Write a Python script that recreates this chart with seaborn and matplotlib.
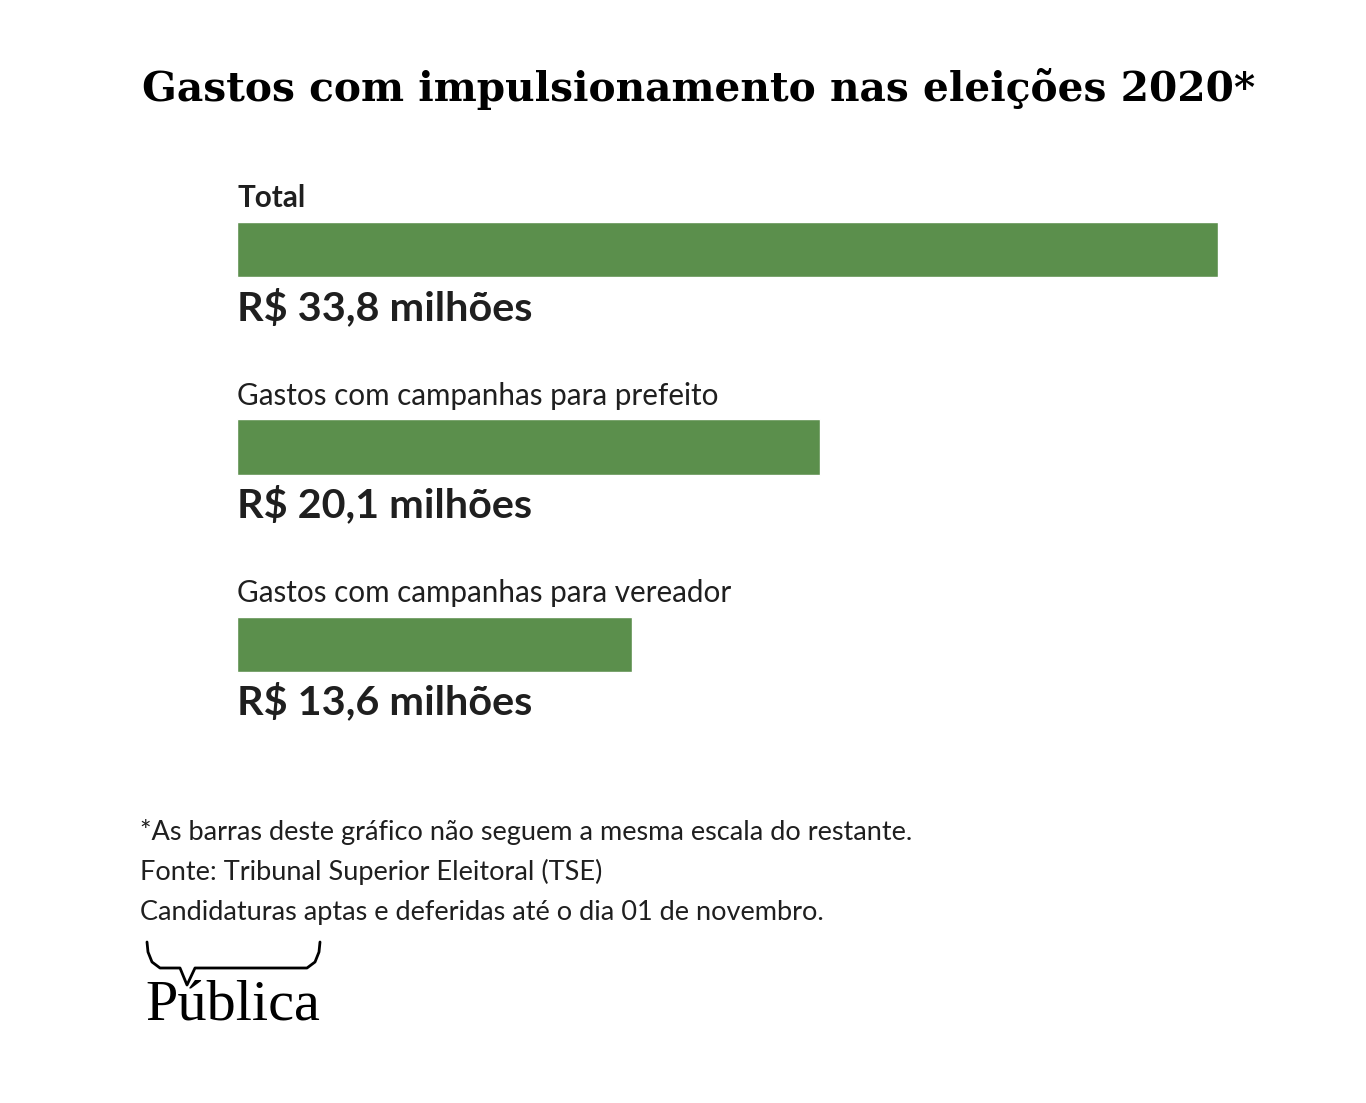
import matplotlib
matplotlib.use("Agg")
import matplotlib.pyplot as plt
import seaborn as sns
from matplotlib.lines import Line2D

categories = ["Total", "Gastos com campanhas para prefeito", "Gastos com campanhas para vereador"]
values = [33.8, 20.1, 13.6]
notes = [
    "*As barras deste gráfico não seguem a mesma escala do restante.",
    "Fonte: Tribunal Superior Eleitoral (TSE)",
    "Candidaturas aptas e deferidas até o dia 01 de novembro.",
]

GREEN = "#5b8f4c"
INK = "#1f1f1f"
W, H = 1366, 1103

sns.set_theme(style="white")
plt.rcParams["font.family"] = ["Lato", "DejaVu Sans"]

fig = plt.figure(figsize=(W / 100, H / 100), dpi=100)
fig.patch.set_facecolor("white")

# axes placed in pixels: bars run from x=237 to x=1218 for the max value
ax = fig.add_axes([237 / W, 1 - 743 / H, 981 / W, 592 / H])
sns.barplot(x=values, y=categories, orient="h", color=GREEN, saturation=1,
            width=0.279, ax=ax)
ax.set_xlim(0, max(values))
ax.set_ylim(2.5, -0.5)
ax.axis("off")

for i, (cat, v) in enumerate(zip(categories, values)):
    ax.text(0, i - 0.215, cat, ha="left", va="baseline", color=INK,
            fontsize=21.3, fontweight="bold" if i == 0 else "normal")
    label = "R$ " + f"{v:.1f}".replace(".", ",") + " milhões"
    ax.text(0, i + 0.355, label, ha="left", va="baseline", color=INK,
            fontsize=29.8, fontweight="bold")

fig.text(142 / W, 1 - 101 / H, "Gastos com impulsionamento nas eleições 2020*",
         family="DejaVu Serif", fontweight="bold", fontsize=29.3, color="black",
         ha="left", va="baseline")

for k, line in enumerate(notes):
    fig.text(140 / W, 1 - (840 + 40 * k) / H, line, fontsize=19.5, color=INK,
             ha="left", va="baseline")

# Pública logo: speech-bracket + wordmark
bx = [147, 148, 152, 160, 180, 187, 195, 307, 315, 319, 320]
by = [942, 952, 962, 968, 968, 985, 968, 968, 962, 952, 942]
fig.add_artist(Line2D([x / W for x in bx], [1 - y / H for y in by],
                      color="black", lw=2, transform=fig.transFigure))
fig.text(145 / W, 1 - 1019 / H, "Pública", family="Liberation Serif",
         fontsize=42, color="black", ha="left", va="baseline")

fig.savefig("out.png", dpi=100, facecolor="white")
